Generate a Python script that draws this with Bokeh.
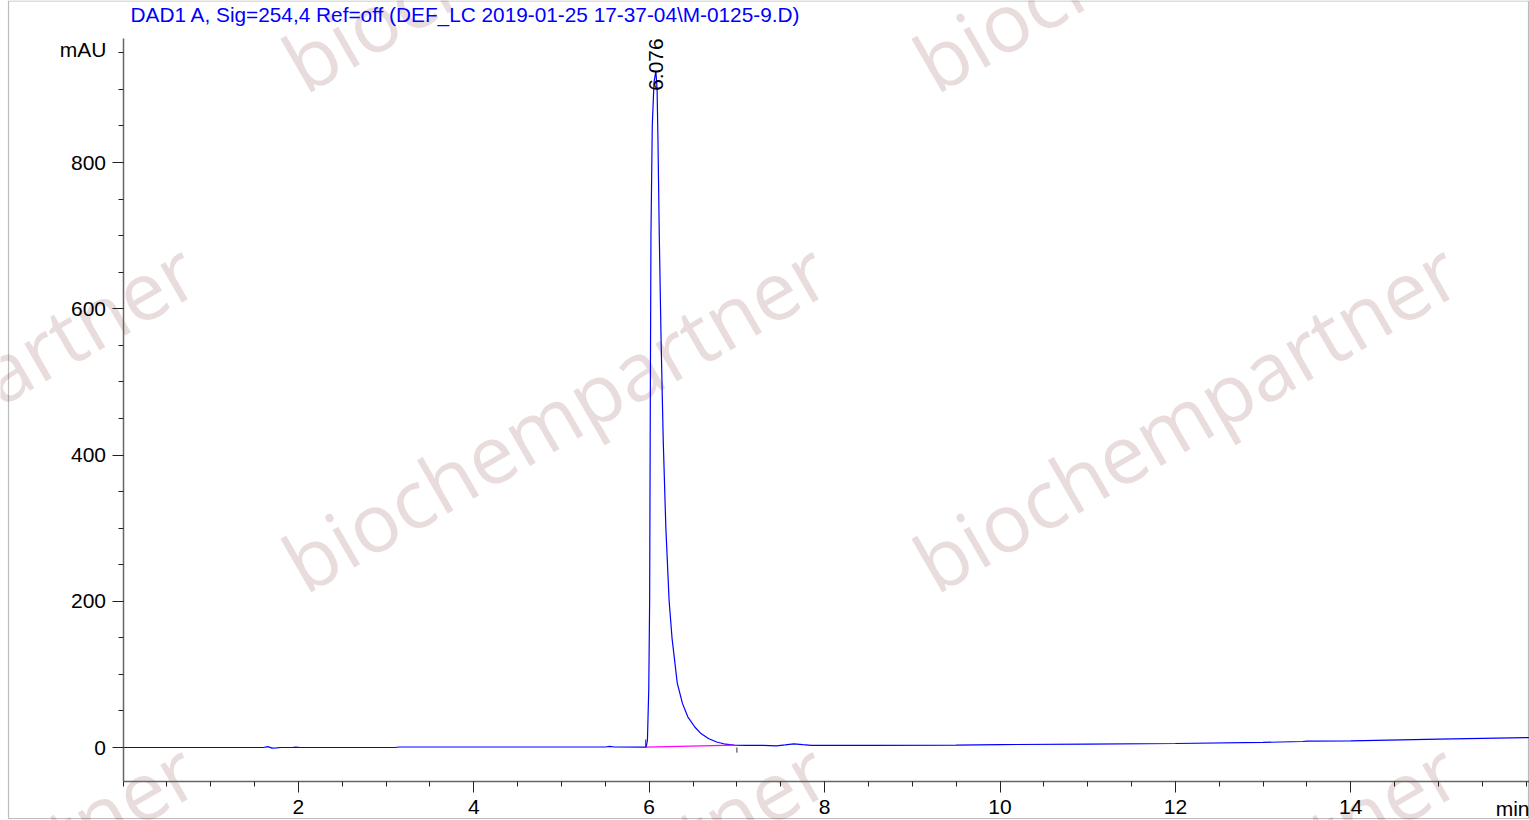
import numpy as np
from bokeh.plotting import figure
from bokeh.models import Range1d, FixedTicker, Label, BoxAnnotation
from bokeh.embed import file_html
from bokeh.resources import INLINE

# ---------------- data ----------------
time_min = [0.0, 1.60, 1.65, 1.70, 1.75, 1.80, 1.93, 1.97, 2.02, 3.10, 3.15,
            5.50, 5.55, 5.60, 5.93, 5.965, 5.98, 5.995, 6.005, 6.012, 6.02,
            6.035, 6.055, 6.076, 6.09, 6.10, 6.115, 6.135, 6.16, 6.19, 6.227,
            6.26, 6.32, 6.38, 6.44, 6.52, 6.59, 6.68, 6.77, 6.87, 6.97, 7.10,
            7.30, 7.45, 7.55, 7.65, 7.75, 7.85, 8.50, 9.50, 10.0, 11.0, 12.0,
            13.0, 13.45, 13.50, 14.0, 15.0, 16.03]
signal_mau = [0.0, 0.0, 1.2, -0.8, -0.6, 0.0, 0.0, 0.6, 0.0, 0.0, 0.7,
              0.7, 1.5, 0.7, 0.5, 0.5, 10, 80, 200, 450, 700,
              850, 910, 925, 900, 830, 700, 560, 420, 300, 201,
              150, 88, 60, 42, 28, 19, 12, 7.5, 4.5, 3.2, 3.0,
              2.8, 2.2, 3.5, 5.0, 3.8, 3.0, 3.0, 3.3, 4.0, 4.6, 5.5,
              7.0, 8.2, 8.6, 9.0, 11.5, 13.5]

peak_rt = 6.076
peak_label = "6.076"
peak_label_y = 898
baseline_t = [5.965, 6.97]
baseline_v = [0.5, 3.2]
marker_t = [5.96, 7.0]
marker_v0 = [0.0, 0.0]
marker_v1 = [11.0, -7.0]

x_major = [2, 4, 6, 8, 10, 12, 14]
x_minor = [k * 0.5 for k in range(0, 33)]
y_major = [0, 200, 400, 600, 800]
y_minor = [k * 50 for k in range(0, 20)]

title_text = "DAD1 A, Sig=254,4 Ref=off (DEF_LC 2019-01-25 17-37-04\\M-0125-9.D)"
y_unit = "mAU"
x_unit = "min"
watermark = "biochempartner"

# ---------------- layout ----------------
W, H = 1529, 820
PX_PER_MIN = 87.7
X_ZERO_PX = 122.5
PX_PER_MAU = 0.73125
Y_ZERO_PX = 747.0


def px_x(px):
    return (px - X_ZERO_PX) / PX_PER_MIN


def px_y(py):
    return (Y_ZERO_PX - py) / PX_PER_MAU


X_AX_START, X_AX_END = 0.0, px_x(1528.5)
Y_AX_START, Y_AX_END = px_y(781), px_y(38)

FONT = "Liberation Sans"

p = figure(width=W, height=H, output_backend="svg", toolbar_location=None,
           x_range=Range1d(px_x(0), px_x(W)), y_range=Range1d(px_y(H), px_y(0)),
           min_border=0, min_border_left=0, min_border_right=0,
           min_border_top=0, min_border_bottom=0,
           background_fill_color="white", border_fill_color="white")
p.title.visible = False
p.outline_line_color = None
p.grid.visible = False

xa = p.xaxis[0]
ya = p.yaxis[0]
xa.fixed_location = Y_AX_START
ya.fixed_location = 0.0
xa.bounds = (X_AX_START, X_AX_END)
ya.bounds = (Y_AX_START, Y_AX_END)

for ax in (xa, ya):
    ax.axis_line_color = "#666666"
    ax.axis_line_width = 1.5
    ax.major_tick_line_color = "#222222"
    ax.minor_tick_line_color = "#222222"
    ax.major_tick_out = 11
    ax.major_tick_in = 0
    ax.minor_tick_out = 5
    ax.minor_tick_in = 0
    ax.major_label_text_font = FONT
    ax.major_label_text_font_size = "21px"
    ax.major_label_text_color = "black"

xa.ticker = FixedTicker(ticks=x_major, minor_ticks=x_minor)
ya.ticker = FixedTicker(ticks=y_major, minor_ticks=y_minor)
xa.major_label_standoff = 7
ya.major_label_standoff = 6

# watermark (decorative, drawn under everything)
wm_anchors = [(289, 68), (920, 68), (-342, 568), (289, 568), (920, 568),
              (-342, 1068), (289, 1068), (920, 1068)]
for cx, cy in wm_anchors:
    p.add_layout(Label(x=px_x(cx), y=px_y(cy), text=watermark,
                       angle=np.radians(30), text_align="left",
                       text_baseline="alphabetic", text_font="Open Sans",
                       text_font_size="81px", text_color="#e9dcdc",
                       level="underlay"))

# outer frame of the report
p.add_layout(BoxAnnotation(left=px_x(8), right=px_x(1528), top=px_y(0.5),
                           bottom=px_y(818), fill_alpha=0, line_color="#222222",
                           line_width=1.2))

# signal
p.line(time_min, signal_mau, line_color="#0000ff", line_width=1.2)
p.line(baseline_t, baseline_v, line_color="#ff00ff", line_width=1.2)
p.segment(x0=marker_t, y0=marker_v0, x1=marker_t, y1=marker_v1,
          line_color="#333333", line_width=1)

# texts
p.add_layout(Label(x=peak_rt, y=peak_label_y, text=peak_label,
                   angle=np.pi / 2, text_align="left", text_baseline="middle",
                   text_font=FONT, text_font_size="21px", text_color="black"))
p.add_layout(Label(x=px_x(130), y=px_y(14), text=title_text,
                   text_align="left", text_baseline="middle",
                   text_font=FONT, text_font_size="20.8px", text_color="#0000ff"))
p.add_layout(Label(x=px_x(106), y=px_y(49), text=y_unit,
                   text_align="right", text_baseline="middle",
                   text_font=FONT, text_font_size="21px", text_color="black"))
p.add_layout(Label(x=px_x(1529), y=px_y(808), text=x_unit,
                   text_align="right", text_baseline="middle",
                   text_font=FONT, text_font_size="21px", text_color="black"))

open("out.html", "w").write(file_html(p, INLINE, title="chromatogram"))
